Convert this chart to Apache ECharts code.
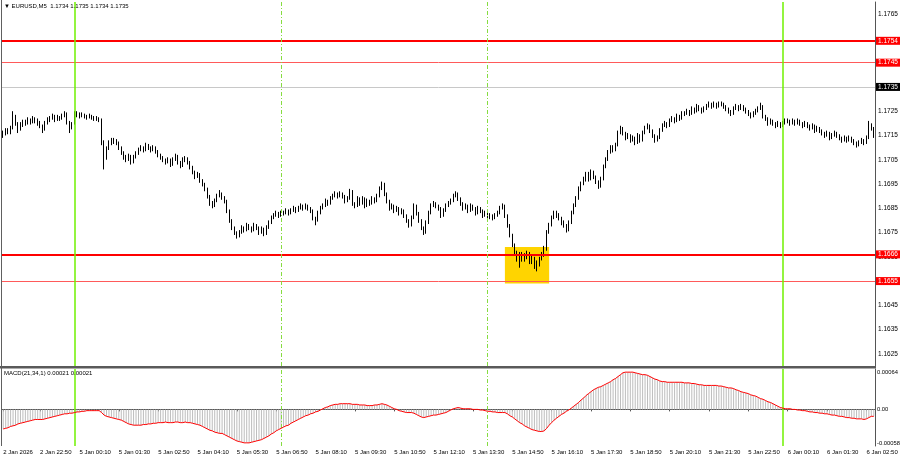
<!DOCTYPE html>
<html><head><meta charset="utf-8">
<script src="https://cdn.jsdelivr.net/npm/echarts@6/dist/echarts.min.js"></script>
<style>html,body{margin:0;padding:0;background:#fff}#c{width:900px;height:460px}</style>
</head><body><div id="c"></div>
<script>
// ---- sessions of 5-minute bars shown on the chart ----
const sessions = [['2 Jan','21:35','23:55'],['5 Jan','00:00','23:55'],['6 Jan','00:00','03:05']];

// ---- OHLC per bar: [open, close, low, high] ----
const candles = [
[1.1715,1.1716,1.1714,1.1717],[1.1716,1.1717,1.1715,1.1718],[1.1717,1.17165,1.17155,1.1718],[1.17165,1.1718,1.17155,1.1719],
[1.1718,1.17225,1.17175,1.1725],[1.17225,1.172,1.1719,1.17235],[1.172,1.17175,1.1716,1.17205],[1.17175,1.17195,1.1717,1.17205],
[1.17195,1.17205,1.17185,1.17215],[1.17205,1.172,1.1719,1.17215],[1.172,1.17215,1.17195,1.17225],[1.17215,1.17205,1.17195,1.1722],
[1.17205,1.1722,1.172,1.1723],[1.1722,1.1721,1.172,1.17225],[1.1721,1.172,1.1719,1.1722],[1.172,1.1719,1.1718,1.1721],
[1.1719,1.17175,1.1716,1.17195],[1.17175,1.172,1.1717,1.1721],[1.172,1.17215,1.17195,1.17225],[1.17215,1.1722,1.17205,1.1723],
[1.1722,1.1723,1.17215,1.1724],[1.1723,1.17215,1.17205,1.17235],[1.17215,1.17225,1.1721,1.17235],[1.17225,1.1722,1.1721,1.1723],
[1.1722,1.1723,1.17215,1.1724],[1.1723,1.1724,1.17225,1.1725],[1.1724,1.17205,1.17195,1.17245],[1.17205,1.1718,1.1716,1.1721],
[1.1718,1.17195,1.17175,1.17205],
[1.172,1.17235,1.17195,1.1725],[1.17235,1.1724,1.17225,1.1725],[1.1724,1.1723,1.1722,1.17245],[1.1723,1.17235,1.17225,1.17245],
[1.17235,1.1723,1.1722,1.1724],[1.1723,1.17225,1.17215,1.17235],[1.17225,1.1723,1.1722,1.1724],[1.1723,1.17225,1.17215,1.17235],
[1.17225,1.1722,1.1721,1.1723],[1.1722,1.1722,1.1721,1.1723],[1.1722,1.17215,1.17205,1.17225],[1.17215,1.1712,1.1711,1.1722],
[1.1712,1.1706,1.1701,1.1713],[1.1706,1.17095,1.1705,1.17105],[1.17095,1.1712,1.1709,1.1713],[1.1712,1.1713,1.1711,1.1714],
[1.1713,1.17125,1.17115,1.1714],[1.17125,1.1712,1.1711,1.17135],[1.1712,1.171,1.1709,1.17125],[1.171,1.1708,1.1707,1.17105],
[1.1708,1.1706,1.1705,1.17085],[1.1706,1.1705,1.1704,1.1707],[1.1705,1.17065,1.17045,1.17075],[1.17065,1.1704,1.1703,1.1707],
[1.1704,1.1706,1.17035,1.1707],[1.1706,1.17075,1.17055,1.17085],[1.17075,1.1709,1.1707,1.171],[1.1709,1.171,1.17085,1.1711],
[1.171,1.1709,1.1708,1.17105],[1.1709,1.1711,1.17085,1.1712],[1.1711,1.171,1.1709,1.17115],[1.171,1.1709,1.1708,1.17105],
[1.1709,1.171,1.17085,1.1711],[1.171,1.17085,1.17075,1.17105],[1.17085,1.1707,1.1706,1.1709],[1.1707,1.1706,1.1705,1.17075],
[1.1706,1.1705,1.1704,1.17065],[1.1705,1.1704,1.1703,1.17055],[1.1704,1.1705,1.17035,1.1706],[1.1705,1.1703,1.1702,1.17055],
[1.1703,1.1705,1.17025,1.1706],[1.1705,1.17065,1.17045,1.17075],[1.17065,1.1704,1.1703,1.1707],[1.1704,1.17025,1.17015,1.17045],
[1.17025,1.1705,1.1702,1.1706],[1.1705,1.17055,1.1704,1.17065],[1.17055,1.1704,1.1703,1.1706],[1.1704,1.1702,1.1701,1.17045],
[1.1702,1.17,1.1699,1.17025],[1.17,1.1698,1.1697,1.17005],[1.1698,1.1699,1.16975,1.17],[1.1699,1.16965,1.16955,1.16995],
[1.16965,1.1695,1.1694,1.1697],[1.1695,1.1693,1.1692,1.16955],[1.1693,1.169,1.1689,1.16935],[1.169,1.1687,1.1686,1.16905],
[1.1687,1.1686,1.1685,1.1688],[1.1686,1.1688,1.16855,1.1689],[1.1688,1.169,1.16875,1.1691],[1.169,1.1691,1.16895,1.16925],
[1.1691,1.16895,1.16885,1.16915],[1.16895,1.1688,1.1687,1.169],[1.1688,1.1684,1.1683,1.16885],[1.1684,1.168,1.1679,1.16845],
[1.168,1.1677,1.1676,1.16805],[1.1677,1.1675,1.1674,1.16775],[1.1675,1.16735,1.16725,1.16755],[1.16735,1.1675,1.1673,1.1676],
[1.1675,1.1677,1.16745,1.1678],[1.1677,1.1676,1.1675,1.16775],[1.1676,1.1678,1.16755,1.1679],[1.1678,1.1677,1.1676,1.16785],
[1.1677,1.1676,1.1675,1.16775],[1.1676,1.1678,1.16755,1.1679],[1.1678,1.1677,1.1676,1.16785],[1.1677,1.1675,1.1674,1.16775],
[1.1675,1.16765,1.16745,1.16775],[1.16765,1.16745,1.16735,1.1677],[1.16745,1.1677,1.1674,1.1678],[1.1677,1.1679,1.16765,1.168],
[1.1679,1.1681,1.16785,1.1682],[1.1681,1.1682,1.16805,1.1683],[1.1682,1.1683,1.16815,1.1684],[1.1683,1.1682,1.1681,1.16835],
[1.1682,1.1683,1.16815,1.1684],[1.1683,1.1683,1.1682,1.1684],[1.1683,1.1684,1.16825,1.1685],[1.1684,1.1683,1.1682,1.16845],
[1.1683,1.1684,1.16825,1.1685],[1.1684,1.1685,1.16835,1.1686],[1.1685,1.1684,1.1683,1.16855],[1.1684,1.1685,1.16835,1.1686],
[1.1685,1.1686,1.16845,1.1687],[1.1686,1.1685,1.1684,1.16865],[1.1685,1.1686,1.16845,1.1687],[1.1686,1.1685,1.1684,1.16865],
[1.1685,1.1684,1.1683,1.16855],[1.1684,1.1681,1.168,1.16845],[1.1681,1.168,1.1678,1.16815],[1.168,1.1683,1.16795,1.1684],
[1.1683,1.1685,1.16825,1.1686],[1.1685,1.1686,1.16845,1.1687],[1.1686,1.1688,1.16855,1.1689],[1.1688,1.1687,1.1686,1.16885],
[1.1687,1.1689,1.16865,1.169],[1.1689,1.169,1.16885,1.1691],[1.169,1.1691,1.16895,1.1692],[1.1691,1.169,1.1689,1.16915],
[1.169,1.1691,1.16895,1.1692],[1.1691,1.169,1.1689,1.16915],[1.169,1.1688,1.1687,1.16905],[1.1688,1.1689,1.16875,1.169],
[1.1689,1.1692,1.16885,1.1693],[1.1692,1.1687,1.1686,1.16925],[1.1687,1.1686,1.1685,1.16875],[1.1686,1.1689,1.16855,1.169],
[1.1689,1.1687,1.1686,1.16895],[1.1687,1.1689,1.16865,1.169],[1.1689,1.1686,1.1685,1.16895],[1.1686,1.1688,1.16855,1.1689],
[1.1688,1.1687,1.1686,1.16885],[1.1687,1.1689,1.16865,1.169],[1.1689,1.1688,1.1687,1.16895],[1.1688,1.169,1.16875,1.1691],
[1.169,1.1693,1.16895,1.1694],[1.1693,1.1695,1.16925,1.1696],[1.1695,1.1691,1.169,1.16955],[1.1691,1.1688,1.1687,1.16915],
[1.1688,1.1685,1.1684,1.16885],[1.1685,1.1686,1.16845,1.1687],[1.1686,1.1684,1.1683,1.16865],[1.1684,1.1685,1.16835,1.1686],
[1.1685,1.1683,1.1682,1.16855],[1.1683,1.1684,1.16825,1.1685],[1.1684,1.1682,1.1681,1.16845],[1.1682,1.168,1.1679,1.16825],
[1.168,1.1678,1.1677,1.16805],[1.1678,1.1681,1.16775,1.1682],[1.1681,1.1686,1.16805,1.1687],[1.1686,1.1683,1.1682,1.16865],
[1.1683,1.168,1.1679,1.16835],[1.168,1.1677,1.1676,1.16805],[1.1677,1.1675,1.1674,1.16775],[1.1675,1.1679,1.16745,1.168],
[1.1679,1.1683,1.16785,1.1684],[1.1683,1.1686,1.16825,1.1687],[1.1686,1.1687,1.16855,1.1688],[1.1687,1.1686,1.1685,1.16875],
[1.1686,1.1685,1.1684,1.16865],[1.1685,1.1682,1.1681,1.16855],[1.1682,1.1684,1.16815,1.1685],[1.1684,1.1686,1.16835,1.1687],
[1.1686,1.1687,1.16855,1.1688],[1.1687,1.1688,1.16865,1.1689],[1.1688,1.169,1.16875,1.1691],[1.169,1.1691,1.16895,1.1692],
[1.1691,1.1689,1.1688,1.16915],[1.1689,1.1687,1.1686,1.16895],[1.1687,1.1685,1.1684,1.16875],[1.1685,1.1686,1.16845,1.1687],
[1.1686,1.1684,1.1683,1.16865],[1.1684,1.1686,1.16835,1.1687],[1.1686,1.1685,1.1684,1.16865],[1.1685,1.1683,1.1682,1.16855],
[1.1683,1.1685,1.16825,1.1686],[1.1685,1.1684,1.1683,1.16855],[1.1684,1.1682,1.1681,1.16845],[1.1682,1.1683,1.16815,1.1684],
[1.1683,1.1681,1.168,1.16835],[1.1681,1.1682,1.16805,1.1683],[1.1682,1.1681,1.168,1.16825],[1.1681,1.1682,1.16805,1.1683],
[1.1682,1.1683,1.16815,1.1684],[1.1683,1.1685,1.16825,1.1686],[1.1685,1.1686,1.16845,1.1687],[1.1686,1.1682,1.1681,1.16865],
[1.1682,1.1678,1.1677,1.16825],[1.1678,1.1674,1.1673,1.16785],[1.1674,1.167,1.1669,1.16745],[1.167,1.1667,1.1666,1.16705],
[1.1667,1.1664,1.1663,1.16675],[1.1664,1.1666,1.16605,1.1667],[1.1666,1.1664,1.1663,1.1667],[1.1664,1.1665,1.1663,1.16665],
[1.1665,1.1666,1.1664,1.16675],[1.1666,1.1663,1.1662,1.1667],[1.1663,1.1664,1.1662,1.16655],[1.1664,1.1661,1.166,1.1665],
[1.1661,1.1662,1.1659,1.16635],[1.1662,1.1664,1.1661,1.1665],[1.1664,1.1666,1.16635,1.1667],[1.1666,1.1668,1.1665,1.16695],
[1.1668,1.1675,1.16675,1.1676],[1.1675,1.1678,1.16745,1.1679],[1.1678,1.1681,1.16775,1.1682],[1.1681,1.1683,1.16805,1.1684],
[1.1683,1.1682,1.1681,1.1684],[1.1682,1.1681,1.168,1.1683],[1.1681,1.1679,1.1678,1.16815],[1.1679,1.1678,1.1677,1.168],
[1.1678,1.1676,1.1675,1.16785],[1.1676,1.1679,1.16755,1.168],[1.1679,1.1683,1.16785,1.1684],[1.1683,1.1686,1.16825,1.1687],
[1.1686,1.1689,1.16855,1.169],[1.1689,1.1693,1.16885,1.1694],[1.1693,1.1695,1.1692,1.1696],[1.1695,1.1697,1.16945,1.1698],
[1.1697,1.1699,1.1696,1.17],[1.1699,1.1697,1.1696,1.17],[1.1697,1.17,1.16965,1.1701],[1.17,1.1698,1.1697,1.17005],
[1.1698,1.1696,1.1695,1.16985],[1.1696,1.1694,1.1693,1.16965],[1.1694,1.1697,1.16935,1.1698],[1.1697,1.1702,1.16965,1.1703],
[1.1702,1.1705,1.17015,1.1706],[1.1705,1.1708,1.17045,1.1709],[1.1708,1.171,1.17075,1.1711],[1.171,1.1709,1.1708,1.1711],
[1.1709,1.1711,1.17085,1.1712],[1.1711,1.1716,1.17105,1.1717],[1.1716,1.1718,1.17155,1.1719],[1.1718,1.1716,1.1715,1.17185],
[1.1716,1.1714,1.1713,1.17165],[1.1714,1.1715,1.17135,1.1716],[1.1715,1.1713,1.1712,1.17155],[1.1713,1.1714,1.17125,1.1715],
[1.1714,1.1712,1.1711,1.17145],[1.1712,1.1715,1.17115,1.1716],[1.1715,1.1713,1.1712,1.17155],[1.1713,1.1716,1.17125,1.1717],
[1.1716,1.1718,1.17155,1.1719],[1.1718,1.1719,1.17175,1.172],[1.1719,1.1717,1.1716,1.17195],[1.1717,1.1715,1.1714,1.17175],
[1.1715,1.1713,1.1712,1.17155],[1.1713,1.1714,1.17125,1.1715],[1.1714,1.1717,1.17135,1.1718],[1.1717,1.1719,1.17165,1.172],
[1.1719,1.172,1.17185,1.1721],[1.172,1.1719,1.1718,1.17205],[1.1719,1.1721,1.17185,1.1722],[1.1721,1.1722,1.17205,1.1723],
[1.1722,1.1721,1.172,1.17225],[1.1721,1.1723,1.17205,1.1724],[1.1723,1.1722,1.1721,1.17235],[1.1722,1.1724,1.17215,1.1725],
[1.1724,1.1724,1.1723,1.1725],[1.1724,1.1725,1.17235,1.1726],[1.1725,1.1724,1.1723,1.17255],[1.1724,1.1726,1.17235,1.1727],
[1.1726,1.1725,1.1724,1.17265],[1.1725,1.1727,1.17245,1.1728],[1.1727,1.1726,1.1725,1.17275],[1.1726,1.1725,1.1724,1.17265],
[1.1725,1.1726,1.17245,1.1727],[1.1726,1.1727,1.17255,1.1728],[1.1727,1.1728,1.17265,1.1729],[1.1728,1.1727,1.1726,1.17285],
[1.1727,1.1728,1.17265,1.1729],[1.1728,1.1727,1.1726,1.17285],[1.1727,1.1728,1.17265,1.1729],[1.1728,1.1728,1.1727,1.1729],
[1.1728,1.1727,1.1726,1.17285],[1.1727,1.1726,1.1725,1.17275],[1.1726,1.1725,1.1724,1.17265],[1.1725,1.1724,1.1723,1.17255],
[1.1724,1.1726,1.17235,1.1727],[1.1726,1.1727,1.17255,1.1728],[1.1727,1.1726,1.1725,1.17275],[1.1726,1.1727,1.17255,1.1728],
[1.1727,1.1726,1.1725,1.17275],[1.1726,1.1725,1.1724,1.17265],[1.1725,1.1724,1.1723,1.17255],[1.1724,1.1723,1.1722,1.17245],
[1.1723,1.1724,1.17225,1.1725],[1.1724,1.1725,1.17235,1.1726],[1.1725,1.1726,1.17245,1.1727],[1.1726,1.1727,1.17255,1.17285],
[1.1727,1.1723,1.1722,1.17275],[1.1723,1.1722,1.1721,1.17235],[1.1722,1.172,1.1719,1.17225],[1.172,1.1721,1.17195,1.1722],
[1.1721,1.172,1.1719,1.17215],[1.172,1.1719,1.1718,1.17205],[1.1719,1.172,1.17185,1.1721],[1.172,1.1719,1.1718,1.17205],
[1.1719,1.172,1.17185,1.1721],[1.172,1.1721,1.17195,1.1722],[1.1721,1.1721,1.172,1.1722],[1.1721,1.172,1.1719,1.17215],
[1.172,1.1721,1.17195,1.1722],[1.1721,1.172,1.1719,1.17215],[1.172,1.1721,1.17195,1.1722],[1.1721,1.172,1.1719,1.17215],
[1.172,1.1719,1.1718,1.17205],[1.1719,1.172,1.17185,1.1721],[1.172,1.1719,1.1718,1.17205],[1.1719,1.1718,1.1717,1.17195],
[1.1718,1.1719,1.17175,1.172],[1.1719,1.1717,1.1716,1.17195],[1.1717,1.1718,1.17165,1.1719],[1.1718,1.1717,1.1716,1.17185],
[1.1717,1.1716,1.1715,1.17175],[1.1716,1.1715,1.1714,1.17165],[1.1715,1.1716,1.17145,1.1717],[1.1716,1.1714,1.1713,1.17165],
[1.1714,1.1715,1.17135,1.1716],[1.1715,1.1716,1.17145,1.1717],[1.1716,1.1715,1.1714,1.17165],[1.1715,1.1714,1.1713,1.17155],
[1.1714,1.1713,1.1712,1.17145],[1.1713,1.1714,1.17125,1.1715],[1.1714,1.1713,1.1712,1.17145],[1.1713,1.1714,1.17125,1.1715],
[1.1714,1.1713,1.1712,1.17145],[1.1713,1.1712,1.1711,1.17135],[1.1712,1.1711,1.171,1.17125],[1.1711,1.1712,1.17105,1.1713],
[1.1712,1.1713,1.17115,1.1714],[1.1713,1.1712,1.1711,1.17135],[1.1712,1.1714,1.17115,1.1715],[1.1714,1.1719,1.17135,1.1721],
[1.1719,1.1718,1.1717,1.172],[1.1718,1.1715,1.1714,1.17185]
];

// ---- MACD(21,34,1) main value per bar (signal with period 1 equals it) ----
const macdValues = [
-0.00031,-0.0003,-0.00029,-0.00027,-0.00026,-0.00025,-0.00023,-0.00022,-0.00021,-0.0002,-0.00019,-0.00018,
-0.00017,-0.00016,-0.00016,-0.00016,-0.00016,-0.00015,-0.00014,-0.00013,-0.00012,-0.00011,-0.0001,-0.00009,
-0.00008,-0.00007,-0.00007,-0.00006,-0.00006,-0.00005,-0.00004,-0.00004,-0.00003,-0.00003,-0.00002,-0.00002,
-0.00002,-0.00002,-0.00002,-0.00002,-0.00005,-0.00009,-0.00011,-0.00012,-0.00013,-0.00014,-0.00015,-0.00016,
-0.00017,-0.00019,-0.00021,-0.00023,-0.00024,-0.00025,-0.00025,-0.00025,-0.00025,-0.00024,-0.00024,-0.00023,
-0.00023,-0.00022,-0.00022,-0.00021,-0.00021,-0.00021,-0.0002,-0.00021,-0.00021,-0.00021,-0.0002,-0.0002,
-0.00021,-0.00021,-0.0002,-0.00021,-0.00021,-0.00022,-0.00023,-0.00024,-0.00025,-0.00027,-0.00029,-0.00031,
-0.00033,-0.00034,-0.00036,-0.00037,-0.00038,-0.00038,-0.0004,-0.00042,-0.00044,-0.00046,-0.00048,-0.0005,
-0.00051,-0.00052,-0.00053,-0.00053,-0.00053,-0.00052,-0.00051,-0.0005,-0.00049,-0.00048,-0.00046,-0.00044,
-0.00042,-0.00039,-0.00037,-0.00034,-0.00032,-0.0003,-0.00028,-0.00026,-0.00025,-0.00022,-0.0002,-0.00018,
-0.00016,-0.00014,-0.00012,-0.0001,-0.00009,-0.00007,-0.00006,-0.00004,-0.00003,-0.00001,0.00001,0.00003,
0.00004,0.00006,0.00007,0.00008,0.00008,0.00009,0.00009,0.00009,0.00009,0.00009,0.00008,0.00008,
0.00008,0.00007,0.00007,0.00007,0.00006,0.00006,0.00006,0.00007,0.00007,0.00008,0.00009,0.00008,
0.00007,0.00005,0.00003,0.00001,0,-0.00002,-0.00003,-0.00004,-0.00005,-0.00005,-0.00005,-0.00006,
-0.00008,-0.0001,-0.00012,-0.00013,-0.00012,-0.00011,-0.0001,-0.00009,-0.00009,-0.00008,-0.00007,-0.00006,
-0.00005,-0.00003,-0.00001,0.00001,0.00002,0.00003,0.00002,0.00001,0.00001,0.00001,0.00001,0,
0,0,-0.00001,-0.00001,-0.00002,-0.00003,-0.00003,-0.00004,-0.00004,-0.00005,-0.00005,-0.00005,
-0.00005,-0.00007,-0.0001,-0.00012,-0.00015,-0.00018,-0.00021,-0.00023,-0.00026,-0.00028,-0.0003,-0.00032,
-0.00033,-0.00034,-0.00035,-0.00035,-0.00034,-0.0003,-0.00025,-0.00021,-0.00017,-0.00014,-0.00011,-0.00008,
-0.00006,-0.00003,-0.00001,0.00002,0.00005,0.00008,0.00011,0.00015,0.00018,0.00022,0.00025,0.00028,
0.00031,0.00033,0.00035,0.00036,0.00038,0.0004,0.00042,0.00044,0.00047,0.00049,0.00052,0.00055,
0.00058,0.00059,0.00059,0.00059,0.00059,0.00058,0.00057,0.00056,0.00055,0.00055,0.00054,0.00052,
0.0005,0.00048,0.00047,0.00045,0.00044,0.00044,0.00043,0.00043,0.00043,0.00043,0.00043,0.00043,
0.00043,0.00042,0.00042,0.00042,0.00041,0.00041,0.0004,0.00039,0.00039,0.00038,0.00038,0.00038,
0.00038,0.00038,0.00038,0.00037,0.00037,0.00036,0.00035,0.00034,0.00034,0.00033,0.00031,0.0003,
0.00028,0.00027,0.00026,0.00025,0.00023,0.00022,0.00021,0.00019,0.00017,0.00016,0.00014,0.00012,
0.00011,0.00009,0.00007,0.00005,0.00003,0.00002,0.00001,0.00001,0.00001,0,0,-0.00001,
-0.00001,-0.00002,-0.00002,-0.00003,-0.00004,-0.00004,-0.00005,-0.00005,-0.00006,-0.00006,-0.00007,-0.00007,
-0.00008,-0.00009,-0.00009,-0.0001,-0.00011,-0.00011,-0.00012,-0.00013,-0.00013,-0.00014,-0.00014,-0.00015,
-0.00015,-0.00015,-0.00016,-0.00015,-0.00013,-0.00011,-0.00011
];

// ---- axis ticks (labels that are not hidden behind price-level boxes) ----
const priceTicks = [1.1625,1.1635,1.1645,1.1665,1.1675,1.1685,1.1695,1.1705,1.1715,1.1725,1.1765];
const macdTicks = [-0.00058, 0, 0.00064];
const macdTickText = ['-0.00058', '0.00', '0.00064'];
const timeTicks = ['2 Jan 21:35','2 Jan 22:50','5 Jan 00:10','5 Jan 01:30','5 Jan 02:50','5 Jan 04:10','5 Jan 05:30','5 Jan 06:50',
  '5 Jan 08:10','5 Jan 09:30','5 Jan 10:50','5 Jan 12:10','5 Jan 13:30','5 Jan 14:50','5 Jan 16:10','5 Jan 17:30','5 Jan 18:50',
  '5 Jan 20:10','5 Jan 21:30','5 Jan 22:50','6 Jan 00:10','6 Jan 01:30','6 Jan 02:50'];
const timeTickText = ['2 Jan 2026','2 Jan 22:50','5 Jan 00:10','5 Jan 01:30','5 Jan 02:50','5 Jan 04:10','5 Jan 05:30','5 Jan 06:50',
  '5 Jan 08:10','5 Jan 09:30','5 Jan 10:50','5 Jan 12:10','5 Jan 13:30','5 Jan 14:50','5 Jan 16:10','5 Jan 17:30','5 Jan 18:50',
  '5 Jan 20:10','5 Jan 21:30','5 Jan 22:50','6 Jan 00:10','6 Jan 01:30','6 Jan 02:50'];

// ---- annotations ----
const levelsMain = [1.1754, 1.1666];
const levelsSecondary = [1.1745, 1.1655];
const bidLevel = 1.1735;
const dayLines = ['5 Jan 00:00', '6 Jan 00:00'];
const sessionLines = ['5 Jan 07:00', '5 Jan 14:00'];
const highlightBox = { from: '5 Jan 14:35', to: '5 Jan 16:05', top: 1.1669, bottom: 1.1654 };
const headerText = '\u25BC EURUSD,M5  1.1734 1.1735 1.1734 1.1735';
const macdTitle = 'MACD(21,34,1) 0.00021 0.00021';

// ---- build category list ----
const pad = n => (n < 10 ? '0' : '') + n;
const toMin = s => { const p = s.split(':'); return +p[0] * 60 + +p[1]; };
const categories = [];
sessions.forEach(([day, a, b]) => {
  for (let t = toMin(a); t <= toMin(b); t += 5) categories.push(day + ' ' + pad(Math.floor(t / 60)) + ':' + pad(t % 60));
});
if (categories.length !== candles.length || macdValues.length !== candles.length)
  throw new Error('length mismatch ' + categories.length + ' ' + candles.length + ' ' + macdValues.length);

const FONT = 'Liberation Sans';
const near = (a, b, eps) => Math.abs(a - b) < eps;
const tickIdx = v => timeTicks.indexOf(v);

const levelLabel = (bg, v) => ({
  show: true, position: 'end', distance: 1,
  formatter: v.toFixed(4),
  backgroundColor: bg, color: '#fff', fontSize: 6.5, fontFamily: FONT, padding: [1, 3, 0, 2]
});
const vLines = () => dayLines.map(d => ({ xAxis: d, lineStyle: { color: '#6FF000', width: 1.5, type: 'solid' } }))
  .concat(sessionLines.map(d => ({ xAxis: d, lineStyle: { color: '#86DC40', width: 1, type: [4, 2, 1, 2] } })));

const chart = echarts.init(document.getElementById('c'), null, { renderer: 'canvas' });
chart.setOption({
  animation: false,
  backgroundColor: '#fff',
  textStyle: { fontFamily: FONT },
  grid: [
    { left: 2, top: 2, width: 873, height: 364, containLabel: false, outerBoundsMode: 'none' },
    { left: 2, top: 369, width: 873, height: 77, containLabel: false, outerBoundsMode: 'none' }
  ],
  xAxis: [
    { type: 'category', gridIndex: 0, data: categories, boundaryGap: true,
      axisLine: { show: false }, axisTick: { show: false }, axisLabel: { show: false }, splitLine: { show: false } },
    { type: 'category', gridIndex: 1, data: categories, boundaryGap: true,
      axisLine: { show: true, lineStyle: { color: '#555', width: 1 } },
      axisTick: { show: true, alignWithLabel: true, length: 2, interval: (i, v) => tickIdx(v) >= 0, lineStyle: { color: '#555' } },
      axisLabel: { interval: (i, v) => tickIdx(v) >= 0, formatter: v => timeTickText[tickIdx(v)] || '',
        align: 'left', fontSize: 6, color: '#000', margin: 3, fontFamily: FONT },
      splitLine: { show: false } }
  ],
  yAxis: [
    { type: 'value', gridIndex: 0, position: 'right', min: 1.1620, max: 1.1770, interval: 0.0005,
      axisLine: { show: true, lineStyle: { color: '#555' } }, axisTick: { show: false }, splitLine: { show: false },
      axisLabel: { margin: 3, fontSize: 6.5, color: '#000', fontFamily: FONT,
        formatter: v => priceTicks.some(t => near(t, v, 1e-7)) ? v.toFixed(4) : '' } },
    { type: 'value', gridIndex: 1, position: 'right', min: -0.00058, max: 0.00064, interval: 0.00002,
      axisLine: { show: true, lineStyle: { color: '#555' } }, axisTick: { show: false }, splitLine: { show: false },
      axisLabel: { margin: 2, fontSize: 5.8, color: '#000', fontFamily: FONT,
        formatter: v => {
          const k = macdTicks.findIndex(t => near(t, v, 1e-9));
          if (k < 0) return '';
          if (k === 2) return '{t|' + macdTickText[k] + '}';
          if (k === 0) return '{b|' + macdTickText[k] + '}';
          return macdTickText[k];
        },
        rich: { t: { fontSize: 5.8, padding: [6, 0, 0, 0], fontFamily: FONT }, b: { fontSize: 5.8, padding: [0, 0, 6, 0], fontFamily: FONT } } } }
  ],
  series: [
    // highlight box under the candles
    { type: 'line', name: 'box', xAxisIndex: 0, yAxisIndex: 0, data: [], z: 1,
      markArea: { silent: true, itemStyle: { color: '#FFD400' },
        data: [[{ xAxis: highlightBox.from, yAxis: highlightBox.top }, { xAxis: highlightBox.to, yAxis: highlightBox.bottom }]] } },
    { type: 'candlestick', xAxisIndex: 0, yAxisIndex: 0, data: candles, barWidth: 1, z: 3,
      itemStyle: { color: '#fff', color0: '#000', borderColor: '#000', borderColor0: '#000', borderWidth: 1 } },
    // price levels and time separators in the price panel
    { type: 'line', name: 'levels', xAxisIndex: 0, yAxisIndex: 0, data: [], z: 10,
      markLine: { silent: true, symbol: ['none', 'none'], precision: 6,
        data: levelsMain.map(v => ({ yAxis: v, lineStyle: { color: '#FF0000', width: 2, type: 'solid' }, label: levelLabel('#FF0000', v) }))
          .concat(levelsSecondary.map(v => ({ yAxis: v, lineStyle: { color: '#FF5A5A', width: 1, type: 'solid' }, label: levelLabel('#FF0000', v) })))
          .concat([{ yAxis: bidLevel, lineStyle: { color: '#C8C8C8', width: 1, type: 'solid' }, label: levelLabel('#000', bidLevel) }])
          .concat(vLines().map(o => Object.assign(o, { label: { show: false } }))) } },
    { type: 'bar', xAxisIndex: 1, yAxisIndex: 1, data: macdValues, barWidth: 1,
      itemStyle: { color: '#BDBDBD' } },
    { type: 'line', xAxisIndex: 1, yAxisIndex: 1, data: macdValues, symbol: 'none', showSymbol: false,
      lineStyle: { color: '#FF0000', width: 1 }, z: 5 },
    { type: 'line', name: 'separators', xAxisIndex: 1, yAxisIndex: 1, data: [], z: 6,
      markLine: { silent: true, symbol: ['none', 'none'], label: { show: false }, data: vLines() } }
  ],
  graphic: [
    { type: 'rect', left: 0, top: 366, shape: { width: 876, height: 2.5 }, style: { fill: '#5A5A5A' }, z: 100 },
    { type: 'line', shape: { x1: 1.5, y1: 0, x2: 1.5, y2: 446 }, style: { stroke: '#606060', lineWidth: 1 }, z: 100 },
    { type: 'text', left: 4, top: 3, style: { text: headerText, fontSize: 6, fill: '#000', fontFamily: FONT }, z: 100 },
    { type: 'text', left: 4, top: 370, style: { text: macdTitle, fontSize: 6, fill: '#000', fontFamily: FONT }, z: 100 }
  ]
});
</script>
</body></html>
